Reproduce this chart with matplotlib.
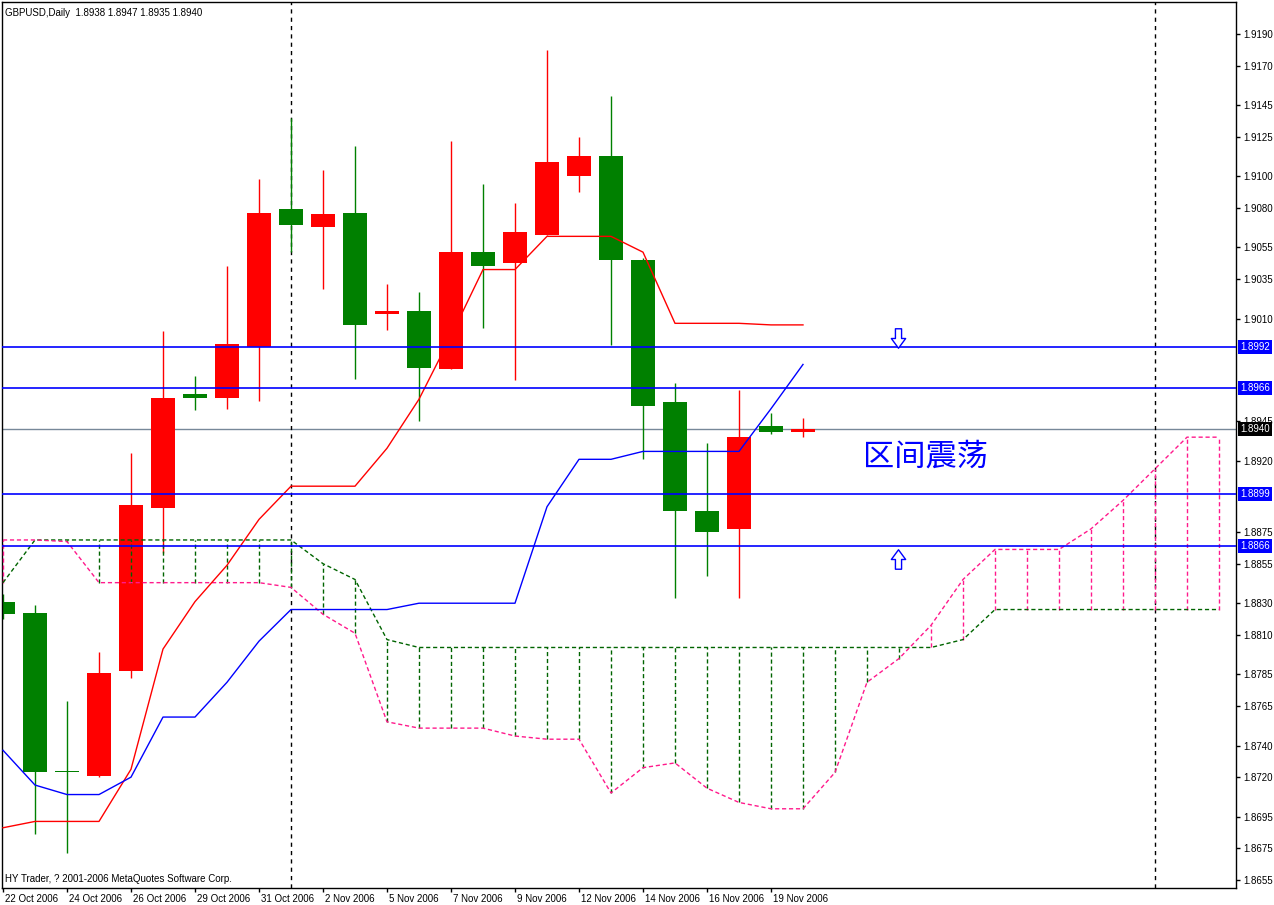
import numpy as np
import matplotlib.pyplot as plt
from matplotlib.path import Path
from matplotlib.transforms import ScaledTranslation

# GBPUSD daily, bar 0 = 22 Oct 2006, bar 25 = 20 Nov 2006
opens = [1.8831, 1.8824, 1.8724, 1.8721, 1.8787, 1.8890, 1.8962, 1.8960, 1.8992, 1.9079,
         1.9068, 1.9077, 1.9013, 1.9015, 1.8978, 1.9052, 1.9045, 1.9063, 1.9100, 1.9113,
         1.9047, 1.8957, 1.8888, 1.8877, 1.8942, 1.8938]
highs = [1.8836, 1.8829, 1.8768, 1.8799, 1.8925, 1.9002, 1.8974, 1.9043, 1.9098, 1.9137,
         1.9104, 1.9119, 1.9032, 1.9027, 1.9122, 1.9095, 1.9083, 1.9180, 1.9125, 1.9151,
         1.9048, 1.8969, 1.8931, 1.8965, 1.8950, 1.8947]
lows = [1.8820, 1.8684, 1.8672, 1.8720, 1.8783, 1.8862, 1.8952, 1.8953, 1.8958, 1.9052,
        1.9029, 1.8972, 1.9003, 1.8945, 1.8978, 1.9004, 1.8971, 1.9063, 1.9090, 1.8993,
        1.8921, 1.8833, 1.8847, 1.8833, 1.8937, 1.8935]
closes = [1.8823, 1.8723, 1.8723, 1.8786, 1.8892, 1.8960, 1.8960, 1.8994, 1.9077, 1.9069,
          1.9076, 1.9006, 1.9015, 1.8979, 1.9052, 1.9043, 1.9065, 1.9109, 1.9113, 1.9047,
          1.8955, 1.8888, 1.8875, 1.8935, 1.8938, 1.8940]

tenkan = [1.8688, 1.8692, 1.8692, 1.8692, 1.8725, 1.8801, 1.8831, 1.8854, 1.8883, 1.8904,
          1.8904, 1.8904, 1.8928, 1.8959, 1.8999, 1.9041, 1.9041, 1.9062, 1.9062, 1.9062,
          1.9052, 1.9007, 1.9007, 1.9007, 1.9006, 1.9006]
kijun = [1.8737, 1.8715, 1.8709, 1.8709, 1.8720, 1.8758, 1.8758, 1.8780, 1.8806, 1.8826,
         1.8826, 1.8826, 1.8826, 1.8830, 1.8830, 1.8830, 1.8830, 1.8891, 1.8921, 1.8921,
         1.8926, 1.8926, 1.8926, 1.8926, 1.8953, 1.8981]

# senkou spans run 13 bars past the last candle
span_a = [1.8870, 1.8870, 1.8869, 1.8843, 1.8843, 1.8843, 1.8843, 1.8843, 1.8843, 1.8840,
          1.8823, 1.8811, 1.8755, 1.8751, 1.8751, 1.8751, 1.8746, 1.8744, 1.8744, 1.8710,
          1.8726, 1.8729, 1.8713, 1.8704, 1.8700, 1.8700, 1.8723, 1.8780, 1.8795, 1.8816,
          1.8845, 1.8864, 1.8864, 1.8864, 1.8877, 1.8895, 1.8915, 1.8935, 1.8935]
span_b = [1.8843, 1.8870, 1.8870, 1.8870, 1.8870, 1.8870, 1.8870, 1.8870, 1.8870, 1.8870,
          1.8855, 1.8845, 1.8807, 1.8802, 1.8802, 1.8802, 1.8802, 1.8802, 1.8802, 1.8802,
          1.8802, 1.8802, 1.8802, 1.8802, 1.8802, 1.8802, 1.8802, 1.8802, 1.8802, 1.8802,
          1.8807, 1.8826, 1.8826, 1.8826, 1.8826, 1.8826, 1.8826, 1.8826, 1.8826]

levels = [1.8992, 1.8966, 1.8899, 1.8866]
last_price = 1.8940
separators = [9, 36]

date_bars = [0, 2, 4, 6, 8, 10, 12, 14, 16, 18, 20, 22, 24]
date_labels = ["22 Oct 2006", "24 Oct 2006", "26 Oct 2006", "29 Oct 2006", "31 Oct 2006",
               "2 Nov 2006", "5 Nov 2006", "7 Nov 2006", "9 Nov 2006", "12 Nov 2006",
               "14 Nov 2006", "16 Nov 2006", "19 Nov 2006"]
price_ticks = [1.9190, 1.9170, 1.9145, 1.9125, 1.9100, 1.9080, 1.9055, 1.9035, 1.9010,
               1.8945, 1.8920, 1.8875, 1.8855, 1.8830, 1.8810, 1.8785, 1.8765, 1.8740,
               1.8720, 1.8695, 1.8675, 1.8655]

UP = "#ff0000"
DOWN = "#008000"
PINK = "#ff1a8c"
DKGREEN = "#006400"
FONT = "Liberation Sans"

# hollow arrow markers (like the wingdings arrows in MT4)
down_arrow = Path([(-3, 9.5), (3, 9.5), (3, 0), (7, 0), (0, -9.5), (-7, 0), (-3, 0), (-3, 9.5)],
                  closed=True)
up_arrow = Path([(-3, -9.5), (3, -9.5), (3, 0), (7, 0), (0, 9.5), (-7, 0), (-3, 0), (-3, -9.5)],
                closed=True)

fig = plt.figure(figsize=(12.74, 9.05), dpi=100)
ax = fig.add_axes([2 / 1274, 17 / 905, 1234 / 1274, 886 / 905])

# candles
x = np.arange(len(opens))
o = np.array(opens)
c = np.array(closes)
cols = [UP if cc > oo else DOWN for oo, cc in zip(o, c)]
body_lo = np.minimum(o, c)
body_h = np.maximum(np.abs(c - o), 0.0001)
ax.vlines(x, lows, highs, colors=cols, lw=1, zorder=2)
ax.bar(x, body_h, bottom=body_lo, width=0.78, color=cols, linewidth=0, zorder=2)

# ichimoku cloud
xs = np.arange(len(span_a))
dash = (0, (3, 2))
for k, a, b in zip(xs, span_a, span_b):
    if abs(a - b) > 1e-6:
        ax.vlines(k, min(a, b), max(a, b), colors=PINK if a > b else DKGREEN,
                  lw=1, linestyles=[dash], zorder=3)
ax.plot(xs, span_b, color=DKGREEN, lw=1, ls=dash, zorder=3)
ax.plot(xs, span_a, color=PINK, lw=1, ls=dash, zorder=3)
ax.plot(x, tenkan, color="#ff0000", lw=1, zorder=4)
ax.plot(x, kijun, color="#0000ff", lw=1, zorder=4)

# horizontal levels and markers
for lv in levels:
    ax.axhline(lv, color="#0000ff", lw=1.2, zorder=5)
ax.axhline(last_price, color="#778899", lw=1, zorder=1)
for s in separators:
    ax.axvline(s, color="black", lw=1, ls=(0, (3, 3)), zorder=1)

ax.plot([27.97], [1.8998], marker=down_arrow, markersize=14, mfc="white", mec="#0000ff",
        mew=1, ls="none", zorder=6)
ax.plot([27.97], [1.8858], marker=up_arrow, markersize=14, mfc="white", mec="#0000ff",
        mew=1, ls="none", zorder=6)
ax.text(26.87, 1.89225, "区间震荡", color="#0000ff", fontsize=22.5, ha="left", va="center",
        family=["Noto Sans CJK SC", "DejaVu Sans"], fontweight="light", zorder=6)

ax.set_xlim(-1 / 32, 1233 / 32)
ax.set_ylim(1.86499, 1.92102)

# axes look
for sp in ax.spines.values():
    sp.set_color("black")
    sp.set_linewidth(1)
ax.yaxis.tick_right()
ax.set_yticks(price_ticks)
ax.set_yticklabels([f"{p:.4f}" for p in price_ticks], family=FONT, fontsize=7)
ax.tick_params(axis="y", direction="out", length=3, pad=2, width=1)
ax.set_xticks(date_bars)
ax.set_xticklabels(date_labels, family=FONT, fontsize=7, ha="left")
ax.tick_params(axis="x", direction="out", length=3, pad=1, width=1)
shift = ScaledTranslation(2 / 100, 0, fig.dpi_scale_trans)
for lab in ax.get_xticklabels():
    lab.set_transform(lab.get_transform() + shift)

ytrans = ax.get_yaxis_transform() + ScaledTranslation(4 / 100, 0, fig.dpi_scale_trans)
for lv in levels:
    ax.text(1.0, lv, f"{lv:.4f}", transform=ytrans,
            color="white", fontsize=7, family=FONT, ha="left", va="center", zorder=10,
            bbox=dict(boxstyle="square,pad=0.2", fc="#0000ff", ec="none"), clip_on=False)
ax.text(1.0, last_price, f"{last_price:.4f}", transform=ytrans,
        color="white", fontsize=7, family=FONT, ha="left", va="center", zorder=10,
        bbox=dict(boxstyle="square,pad=0.2", fc="black", ec="none"), clip_on=False)

fig.text(5 / 1274, 1 - 13 / 905, "GBPUSD,Daily  1.8938 1.8947 1.8935 1.8940",
         family=FONT, fontsize=7, va="center")
fig.text(5 / 1274, 1 - 879 / 905, "HY Trader, ? 2001-2006 MetaQuotes Software Corp.",
         family=FONT, fontsize=7, va="center")

fig.savefig("out.png", dpi=100, facecolor="white")
